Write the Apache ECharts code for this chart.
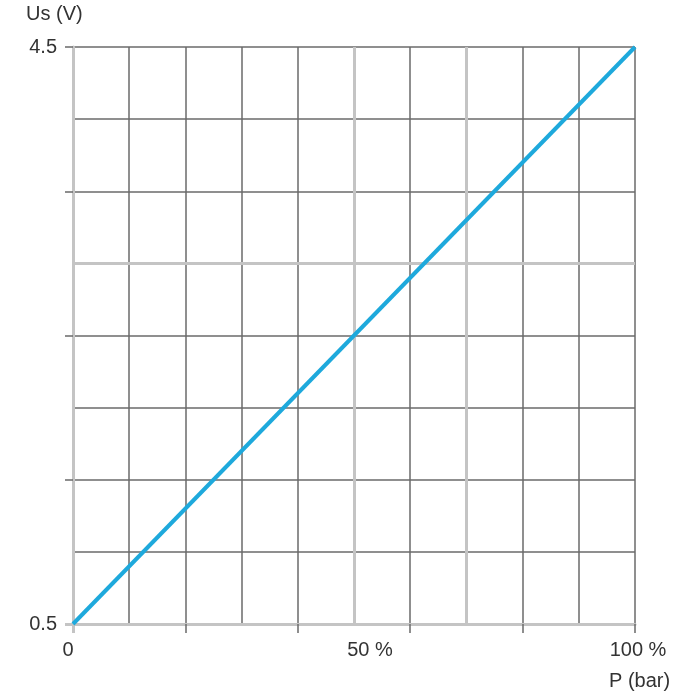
<!DOCTYPE html>
<html>
<head>
<meta charset="utf-8">
<script src="https://cdn.jsdelivr.net/npm/echarts@6/dist/echarts.min.js"></script>
<style>html,body{margin:0;padding:0;background:#fff}#c{width:700px;height:700px}</style>
</head>
<body>
<div id="c"></div>
<script>
// Data
var pressurePct = [0, 100];
var outputVolt = [0.5, 4.5];
var xLabelValues = [0, 50, 100];
var xLabelTexts = ['0', '50 %', '100 %'];
var yLabelValues = [0.5, 4.5];
var yLabelTexts = ['0.5', '4.5'];
var xTickValues = [20, 40, 60, 80, 100];
var yTickValues = [1.5, 2.5, 3.5, 4.5];
var xGrayLines = [50, 70];
var yGrayLines = [3.0];
var xName = 'P (bar)';
var yName = 'Us (V)';

var FONT = '"Liberation Sans", Arial, sans-serif';
var DARK = '#6a6a6a';
var GRAY = '#c4c4c4';

var chart = echarts.init(document.getElementById('c'));

var seriesData = pressurePct.map(function (p, i) { return [p, outputVolt[i]]; });
var markData = xGrayLines.map(function (x) { return { xAxis: x }; })
  .concat(yGrayLines.map(function (y) { return { yAxis: y }; }));

function overlayX(extra) {
  return Object.assign({
    type: 'value', min: 0, max: 100, position: 'bottom', offset: 0,
    axisLine: { show: false },
    axisTick: { show: false },
    axisLabel: { show: false },
    splitLine: { show: false }
  }, extra);
}
function overlayY(extra) {
  return Object.assign({
    type: 'value', min: 0.5, max: 4.5, position: 'left', offset: 0,
    axisLine: { show: false },
    axisTick: { show: false },
    axisLabel: { show: false },
    splitLine: { show: false }
  }, extra);
}

chart.setOption({
  animation: false,
  title: [
    { text: yName, left: 26, top: 4, padding: 0,
      textStyle: { fontFamily: FONT, fontSize: 20, fontWeight: 'normal', color: '#333' } },
    { text: xName, left: 609, top: 671, padding: 0,
      textStyle: { fontFamily: FONT, fontSize: 20, fontWeight: 'normal', color: '#333' } }
  ],
  grid: { left: 73, right: 65, top: 47, bottom: 76, containLabel: false },
  xAxis: [
    {
      type: 'value', min: 0, max: 100, interval: 10, position: 'bottom',
      axisLine: { show: true, onZero: false, lineStyle: { color: GRAY, width: 3 } },
      axisTick: { show: false },
      axisLabel: { show: false },
      splitLine: { show: true, showMinLine: true, showMaxLine: true, lineStyle: { color: DARK, width: 1.5 } }
    },
    overlayX({
      axisTick: { show: true, customValues: xTickValues, length: 9, lineStyle: { color: DARK, width: 1.5 } },
      axisLabel: {
        show: true,
        customValues: xLabelValues,
        margin: 16,
        fontFamily: FONT, fontSize: 20, color: '#333',
        formatter: function (val) {
          var i = xLabelValues.indexOf(val);
          var t = i >= 0 ? xLabelTexts[i] : '';
          if (val === 0) return '{l|' + t + '}';
          if (val === 50) return '{m|' + t + '}';
          return '{r|' + t + '}';
        },
        rich: {
          l: { fontFamily: FONT, fontSize: 20, color: '#333', padding: [0, 10, 0, 0] },
          m: { fontFamily: FONT, fontSize: 20, color: '#333', padding: [0, 0, 0, 32] },
          r: { fontFamily: FONT, fontSize: 20, color: '#333', padding: [0, 0, 0, 6] }
        }
      }
    }),
    overlayX({
      axisTick: { show: true, customValues: [0], length: 9, lineStyle: { color: GRAY, width: 3 } }
    })
  ],
  yAxis: [
    {
      type: 'value', min: 0.5, max: 4.5, interval: 0.5, position: 'left',
      axisLine: { show: true, onZero: false, lineStyle: { color: GRAY, width: 3 } },
      axisTick: { show: false },
      axisLabel: { show: false },
      splitLine: { show: true, showMinLine: true, showMaxLine: true, lineStyle: { color: DARK, width: 1.5 } }
    },
    overlayY({
      axisTick: { show: true, customValues: yTickValues, length: 8, lineStyle: { color: DARK, width: 1.5 } },
      axisLabel: {
        show: true,
        customValues: yLabelValues,
        margin: 16,
        fontFamily: FONT, fontSize: 20, color: '#333',
        formatter: function (val) {
          var i = yLabelValues.indexOf(Math.round(val * 10) / 10);
          return i >= 0 ? yLabelTexts[i] : '';
        }
      }
    }),
    overlayY({
      axisTick: { show: true, customValues: [0.5], length: 8, lineStyle: { color: GRAY, width: 3 } }
    })
  ],
  series: [
    {
      type: 'line', data: [], z: 1, silent: true,
      markLine: {
        silent: true, symbol: ['none', 'none'], label: { show: false },
        lineStyle: { color: GRAY, width: 3, type: 'solid' },
        emphasis: { disabled: true },
        data: markData
      }
    },
    {
      type: 'line', data: seriesData, z: 5, showSymbol: false, symbol: 'none',
      lineStyle: { color: '#1ea9dc', width: 4 }
    }
  ]
});
</script>
</body>
</html>
